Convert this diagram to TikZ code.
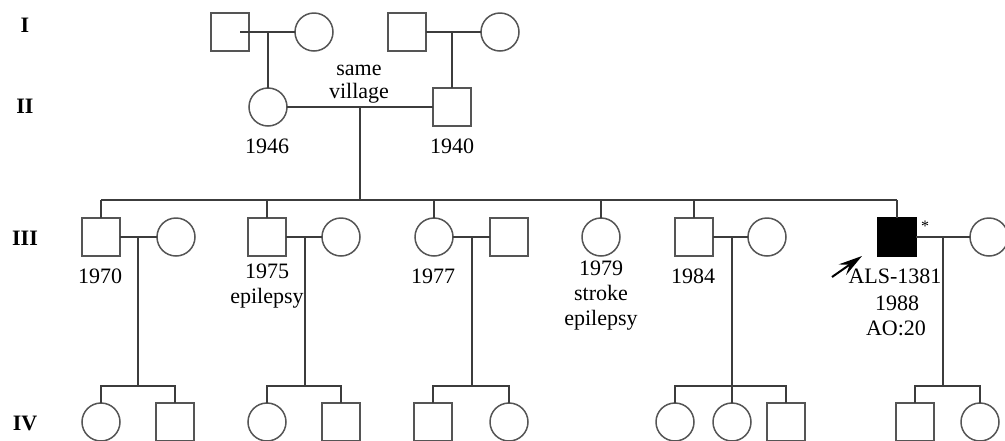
\documentclass[tikz,border=0pt]{standalone}
\usepackage{fontspec}
\setmainfont{Liberation Serif}
\usetikzlibrary{arrows.meta}
\definecolor{lncol}{RGB}{60,60,60}
\definecolor{shcol}{RGB}{85,85,85}
\begin{document}
\begin{tikzpicture}[x=1pt,y=-1pt,
  ln/.style={line width=1.5pt, draw=lncol},
  male/.style={rectangle, draw=shcol, line width=1.5pt, minimum size=38pt, inner sep=0pt, outer sep=0pt},
  female/.style={circle, draw=shcol, line width=1.5pt, minimum size=38pt, inner sep=0pt, outer sep=0pt},
  affm/.style={male, fill=black, draw=black},
  lbl/.style={anchor=base, inner sep=0pt, font=\fontsize{22}{24}\selectfont},
  gen/.style={lbl, font=\fontsize{22}{24}\selectfont\bfseries}]
\useasboundingbox (0,0) rectangle (1005,440);
\clip (0,0) rectangle (1005,440);

% generation labels
\node[gen] (gI) at (25,32) {I};
\node[gen] (gII) at (25,113) {II};
\node[gen] (gIII) at (25,245) {III};
\node[gen] (gIV) at (25,430) {IV};

% Generation I
\node[male] (I1) at (230,32) {};
\node[female] (I2) at (314,32) {};
\node[male] (I3) at (407,32) {};
\node[female] (I4) at (500,32) {};

% Generation II
\node[female] (II1) at (268,107) {};
\node[male] (II2) at (452,107) {};

% Generation III
\node[male] (III1) at (101,237) {};
\node[female] (III1s) at (176,237) {};
\node[male] (III2) at (267,237) {};
\node[female] (III2s) at (341,237) {};
\node[female] (III3) at (434,237) {};
\node[male] (III3s) at (509,237) {};
\node[female] (III4) at (601,237) {};
\node[male] (III5) at (694,237) {};
\node[female] (III5s) at (767,237) {};
\node[affm] (III6) at (897,237) {};
\node[female] (III6s) at (989,237) {};

% Generation IV
\node[female] (IV1) at (101,422) {};
\node[male] (IV2) at (175,422) {};
\node[female] (IV3) at (267,422) {};
\node[male] (IV4) at (341,422) {};
\node[male] (IV5) at (433,422) {};
\node[female] (IV6) at (509,422) {};
\node[female] (IV7) at (675,422) {};
\node[female] (IV8) at (732,422) {};
\node[male] (IV9) at (786,422) {};
\node[male] (IV10) at (915,422) {};
\node[female] (IV11) at (980,422) {};

% coordinates
\coordinate (m1) at (268,32);
\coordinate (m2) at (452,32);
\coordinate (m3) at (360,107);
\coordinate (s3) at (360,200);
\coordinate (r4) at (0,386);
\coordinate (c1) at (138,237);
\coordinate (c2) at (305,237);
\coordinate (c3) at (472,237);
\coordinate (c5) at (732,237);
\coordinate (c6) at (943,237);

% Generation I connectors
\draw[ln] ([xshift=-9pt]I1.east) -- (I2.west);
\draw[ln] (m1) -- (II1.north);
\draw[ln] (I3.east) -- (I4.west);
\draw[ln] (m2) -- (II2.north);

% Generation II
\draw[ln] (II1.east) -- (II2.west);
\draw[ln] (m3) -- (s3);
\draw[ln] (III1.north |- s3) -- (III6.north |- s3);
\foreach \n in {III1,III2,III3,III4,III5,III6}
  \draw[ln] (\n.north) -- (\n.north |- s3);

% Generation III marriages
\draw[ln] (III1.east) -- (III1s.west);
\draw[ln] (III2.east) -- (III2s.west);
\draw[ln] (III3.east) -- (III3s.west);
\draw[ln] (III5.east) -- (III5s.west);
\draw[ln] (III6.east) -- (III6s.west);
\foreach \c in {c1,c2,c3,c5,c6}
  \draw[ln] (\c) -- (\c |- r4);

% Generation IV sibships
\draw[ln] (IV1.north) -- (IV1.north |- r4) -- (IV2.north |- r4) -- (IV2.north);
\draw[ln] (IV3.north) -- (IV3.north |- r4) -- (IV4.north |- r4) -- (IV4.north);
\draw[ln] (IV5.north) -- (IV5.north |- r4) -- (IV6.north |- r4) -- (IV6.north);
\draw[ln] (IV7.north) -- (IV7.north |- r4) -- (IV9.north |- r4) -- (IV9.north);
\draw[ln] (IV8.north) -- (IV8.north |- r4);
\draw[ln] (IV10.north) -- (IV10.north |- r4) -- (IV11.north |- r4) -- (IV11.north);

% labels
\node[lbl] (tsame) at (359,75) {same};
\node[lbl] (tvill) at (359,98) {village};
\node[lbl] (t1946) at (267,153) {1946};
\node[lbl] (t1940) at (452,153) {1940};
\node[lbl] (t1970) at (100,283) {1970};
\node[lbl] (t1975) at (267,278) {1975};
\node[lbl] (te1) at (267,303) {epilepsy};
\node[lbl] (t1977) at (433,283) {1977};
\node[lbl] (t1979) at (601,275) {1979};
\node[lbl] (tstroke) at (601,300) {stroke};
\node[lbl] (te2) at (601,325) {epilepsy};
\node[lbl] (t1984) at (693,283) {1984};
\node[lbl] (tals) at (895,283) {ALS-1381};
\node[lbl] (t1988) at (897,310) {1988};
\node[lbl] (tao) at (896,335) {AO:20};
\node[anchor=base, inner sep=0pt, font=\fontsize{16}{16}\selectfont] (star) at (925,231) {*};

% proband arrow
\coordinate (arT) at (832,277);
\coordinate (arH) at (862,256);
\draw[line width=2pt, black, -{Stealth[length=24pt,width=13pt,inset=9pt]}] (arT) -- (arH);
\end{tikzpicture}
\end{document}
